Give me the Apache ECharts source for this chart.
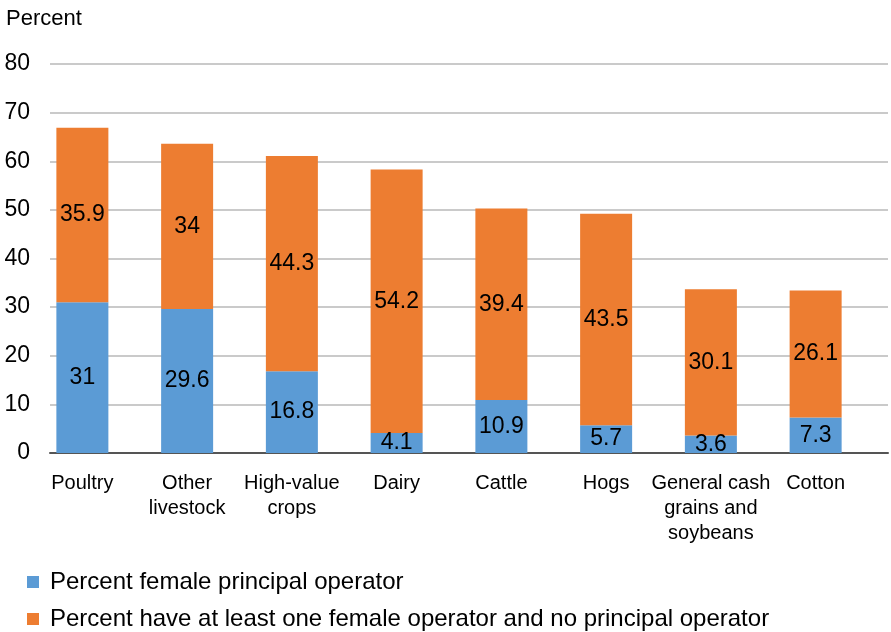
<!DOCTYPE html>
<html>
<head>
<meta charset="utf-8">
<script src="https://cdn.jsdelivr.net/npm/echarts@6/dist/echarts.min.js"></script>
<style>
  html, body { margin: 0; padding: 0; background: #fff; }
  #chart { width: 891px; height: 632px; }
</style>
</head>
<body>
<div id="chart"></div>
<script>
const categories = ['Poultry', 'Other\nlivestock', 'High-value\ncrops', 'Dairy', 'Cattle', 'Hogs', 'General cash\ngrains and\nsoybeans', 'Cotton'];
const principalValues = [31, 29.6, 16.8, 4.1, 10.9, 5.7, 3.6, 7.3];
const otherValues = [35.9, 34, 44.3, 54.2, 39.4, 43.5, 30.1, 26.1];
const yTicks = [0, 10, 20, 30, 40, 50, 60, 70, 80];

const font = 'Liberation Sans, Arial, Helvetica, sans-serif';
const chart = echarts.init(document.getElementById('chart'));

const barLabel = {
  show: true,
  position: 'inside',
  color: '#000',
  fontSize: 23,
  fontFamily: font,
};

chart.setOption({
  animation: false,
  title: {
    text: 'Percent',
    left: 1,
    top: 3,
    textStyle: { fontSize: 22, fontWeight: 'normal', color: '#000', fontFamily: font },
  },
  legend: {
    orient: 'vertical',
    left: 27,
    top: 570,
    padding: 0,
    itemWidth: 12,
    itemHeight: 12,
    itemGap: 13,
    icon: 'rect',
    textStyle: { fontSize: 24, color: '#000', fontFamily: font, padding: [0, 0, 0, 6] },
    data: ['Percent female principal operator', 'Percent have at least one female operator and no principal operator'],
  },
  grid: [
    { left: 30, right: 23, top: 64, bottom: 179 },
    { left: 50, right: 3, top: 64, bottom: 179 },
  ],
  xAxis: [
    {
      type: 'category',
      gridIndex: 0,
      data: categories,
      axisLine: { show: false },
      axisTick: { show: false },
      axisLabel: { fontSize: 20, color: '#000', fontFamily: font, margin: 18, lineHeight: 25, interval: 0 },
    },
    {
      type: 'value',
      gridIndex: 1,
      min: 0,
      max: 1,
      axisLine: { show: true, lineStyle: { color: '#555', width: 2 } },
      axisTick: { show: false },
      axisLabel: { show: false },
      splitLine: { show: false },
    },
  ],
  yAxis: [
    {
      type: 'value',
      gridIndex: 0,
      min: 0,
      max: 80,
      interval: 10,
      axisLine: { show: false },
      axisLabel: { show: false },
      splitLine: { show: false },
    },
    {
      type: 'value',
      gridIndex: 1,
      min: yTicks[0],
      max: yTicks[yTicks.length - 1],
      interval: 10,
      axisLine: { show: false },
      axisTick: { show: false },
      axisLabel: { fontSize: 23, color: '#000', fontFamily: font, margin: 20 },
      splitLine: { lineStyle: { color: '#b8b8b8', width: 1.5 } },
    },
  ],
  series: [
    {
      name: 'Percent female principal operator',
      type: 'bar',
      stack: 'total',
      xAxisIndex: 0,
      yAxisIndex: 0,
      barWidth: 52,
      itemStyle: { color: '#5B9BD5' },
      label: barLabel,
      data: principalValues,
      z: 3,
    },
    {
      name: 'Percent have at least one female operator and no principal operator',
      type: 'bar',
      stack: 'total',
      xAxisIndex: 0,
      yAxisIndex: 0,
      barWidth: 52,
      itemStyle: { color: '#ED7D31' },
      label: barLabel,
      data: otherValues,
      z: 3,
    },
  ],
});
</script>
</body>
</html>
